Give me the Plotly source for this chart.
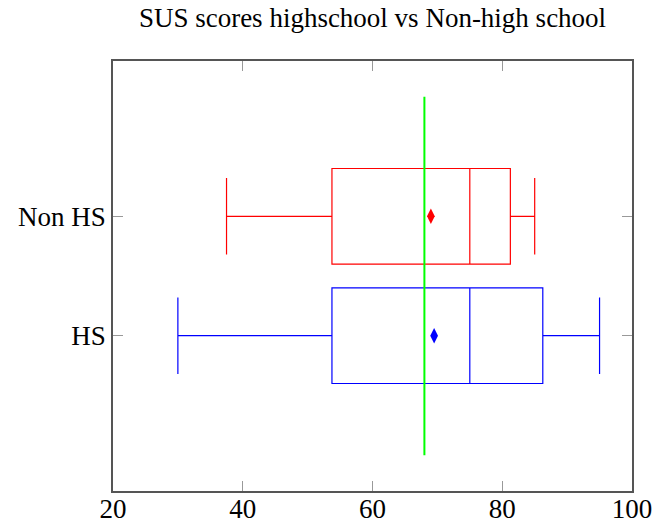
import plotly.graph_objects as go

# SUS score summary per group
groups = ["HS", "Non HS"]
positions = [1, 2]
lower_whisker = [30, 37.5]
q1 = [53.75, 53.75]
median = [75, 75]
q3 = [86.25, 81.25]
upper_whisker = [95, 85]
means = [69.5, 69]
colors = ["blue", "red"]

# Industry average SUS score
sus_average = 68
x_ticks = [20, 40, 60, 80, 100]

fig = go.Figure()

for i, name in enumerate(groups):
    fig.add_trace(go.Box(
        y=[positions[i]],
        q1=[q1[i]],
        median=[median[i]],
        q3=[q3[i]],
        lowerfence=[lower_whisker[i]],
        upperfence=[upper_whisker[i]],
        orientation="h",
        width=0.8,
        whiskerwidth=0.8,
        line=dict(color=colors[i], width=1.2),
        fillcolor="rgba(0,0,0,0)",
        boxpoints=False,
        name=name,
        showlegend=False,
    ))
    fig.add_trace(go.Scatter(
        x=[means[i]],
        y=[positions[i]],
        mode="markers",
        marker=dict(symbol="diamond-tall", size=11, color=colors[i],
                    line=dict(width=0)),
        showlegend=False,
    ))

fig.add_trace(go.Scatter(
    x=[sus_average, sus_average],
    y=[0, 3],
    mode="lines",
    line=dict(color="#00ff00", width=2),
    showlegend=False,
))

serif = "Liberation Serif, Times New Roman, serif"

fig.update_layout(
    width=662,
    height=520,
    margin=dict(l=113, r=30, t=61, b=29),
    paper_bgcolor="white",
    plot_bgcolor="white",
    font=dict(family=serif, size=27, color="black"),
    title=dict(
        text="SUS scores highschool vs Non-high school",
        x=0.5, xref="paper", xanchor="center",
        y=1 - 18 / 520, yanchor="middle",
        font=dict(family=serif, size=27, color="black"),
    ),
    xaxis=dict(
        range=[20, 100],
        tickvals=x_ticks,
        ticks="inside",
        ticklen=10,
        tickcolor="#999",
        tickwidth=1,
        ticklabelstandoff=-7,
        showline=True,
        linecolor="#555",
        linewidth=1.5,
        mirror="ticks",
        showgrid=False,
        zeroline=False,
        automargin=False,
        tickfont=dict(family=serif, size=27),
    ),
    yaxis=dict(
        range=[-0.3, 3.3],
        tickvals=positions,
        ticktext=groups,
        ticks="inside",
        ticklen=10,
        tickcolor="#999",
        tickwidth=1,
        showline=True,
        linecolor="#555",
        linewidth=1.5,
        mirror="ticks",
        showgrid=False,
        zeroline=False,
        automargin=False,
        tickfont=dict(family=serif, size=27),
    ),
)

fig.write_html("out.html")
